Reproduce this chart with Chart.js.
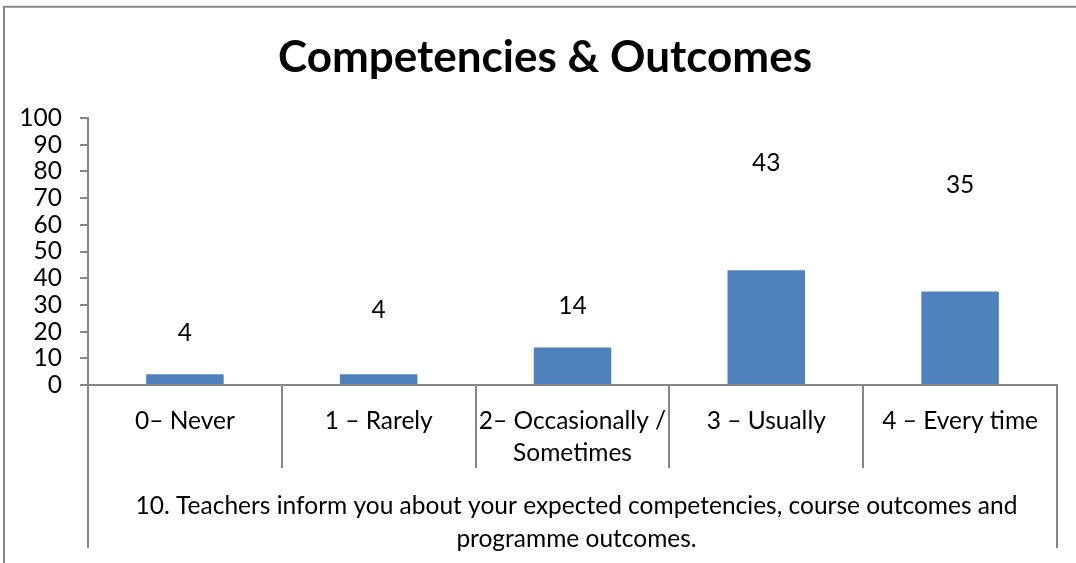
<!DOCTYPE html>
<html>
<head>
<meta charset="utf-8">
<script src="https://cdn.jsdelivr.net/npm/chart.js@4/dist/chart.umd.min.js"></script>
<style>
html,body{margin:0;padding:0;background:#fff;}
canvas{display:block;}
</style>
</head>
<body>
<canvas id="c" width="1076" height="563"></canvas>
<script>
const categories = [
  ["0– Never"],
  ["1 – Rarely"],
  ["2– Occasionally /", "Sometimes"],
  ["3 – Usually"],
  ["4 – Every time"]
];
const values = [4, 4, 14, 43, 35];
const dataLabels = ["4", "4", "14", "43", "35"];
const yTicks = [0, 10, 20, 30, 40, 50, 60, 70, 80, 90, 100];
const titleText = "Competencies & Outcomes";
const groupLabel = ["10. Teachers inform you about your expected competencies, course outcomes and", "programme outcomes."];

// styling only: how far (px) each value label sits above its bar top
const labelLift = [41, 64, 42, 107, 106];

const FONT = "Lato";
const TXT = 24.5;
const AXIS = "#868686";
const BAR = "#4F81BD";

const framePlugin = {
  id: "frame",
  beforeDraw(chart) {
    const ctx = chart.ctx;
    ctx.save();
    ctx.fillStyle = "#fff";
    ctx.fillRect(0, 0, chart.width, chart.height);
    ctx.strokeStyle = AXIS;
    ctx.lineWidth = 2;
    ctx.beginPath();
    ctx.moveTo(4, chart.height);
    ctx.lineTo(4, 6.7);
    ctx.lineTo(chart.width, 6.7);
    ctx.stroke();
    ctx.fillStyle = "#000";
    ctx.font = "bold 44px " + FONT;
    ctx.textAlign = "center";
    ctx.textBaseline = "middle";
    ctx.fillText(titleText, 545, 58);
    ctx.restore();
  }
};

const multiAxisPlugin = {
  id: "multiAxis",
  afterDraw(chart) {
    const ctx = chart.ctx;
    const xs = chart.scales.x;
    const area = chart.chartArea;
    const n = categories.length;
    const w = (area.right - area.left) / n;
    const base = area.bottom;
    ctx.save();
    ctx.strokeStyle = AXIS;
    ctx.lineWidth = 2;
    for (let i = 0; i <= n; i++) {
      const x = Math.round(area.left + i * w);
      const outer = (i === 0 || i === n);
      ctx.beginPath();
      ctx.moveTo(x, base);
      ctx.lineTo(x, outer ? base + 163 : base + 83);
      ctx.stroke();
    }
    ctx.fillStyle = "#000";
    ctx.font = TXT + "px " + FONT;
    ctx.textAlign = "center";
    ctx.textBaseline = "middle";
    categories.forEach((lines, i) => {
      const cx = xs.getPixelForValue(i);
      lines.forEach((t, j) => ctx.fillText(t, cx, base + 36 + j * 32));
    });
    const mid = (area.left + area.right) / 2;
    groupLabel.forEach((t, j) => ctx.fillText(t, mid + 4, base + 121 + j * 33));
    ctx.restore();
  }
};

const valueLabelPlugin = {
  id: "valueLabels",
  afterDatasetsDraw(chart) {
    const ctx = chart.ctx;
    const meta = chart.getDatasetMeta(0);
    ctx.save();
    ctx.fillStyle = "#000";
    ctx.font = TXT + "px " + FONT;
    ctx.textAlign = "center";
    ctx.textBaseline = "middle";
    meta.data.forEach((bar, i) => {
      ctx.fillText(dataLabels[i], bar.x, bar.y - labelLift[i]);
    });
    ctx.restore();
  }
};

new Chart(document.getElementById("c"), {
  type: "bar",
  data: {
    labels: categories.map(l => l.join(" ")),
    datasets: [{
      data: values,
      backgroundColor: BAR,
      borderWidth: 0,
      barPercentage: 0.4,
      categoryPercentage: 1.0
    }]
  },
  options: {
    responsive: false,
    animation: false,
    devicePixelRatio: 1,
    layout: { padding: { left: 0, right: 19, top: 118, bottom: 0 } },
    plugins: {
      legend: { display: false },
      tooltip: { enabled: false },
      title: { display: false }
    },
    scales: {
      x: {
        grid: { display: false },
        border: { display: true, color: AXIS, width: 2 },
        ticks: { display: false },
        afterFit(scale) { scale.height = 178; }
      },
      y: {
        min: 0,
        max: 100,
        afterBuildTicks(scale) { scale.ticks = yTicks.map(v => ({ value: v })); },
        grid: { display: true, drawOnChartArea: false, drawTicks: true, tickLength: 8, color: AXIS, lineWidth: 2 },
        border: { display: true, color: AXIS, width: 2 },
        ticks: { color: "#000", font: { family: FONT, size: TXT }, padding: 18, autoSkip: false },
        afterFit(scale) { scale.width = 88; }
      }
    }
  },
  plugins: [framePlugin, multiAxisPlugin, valueLabelPlugin]
});
</script>
</body>
</html>
